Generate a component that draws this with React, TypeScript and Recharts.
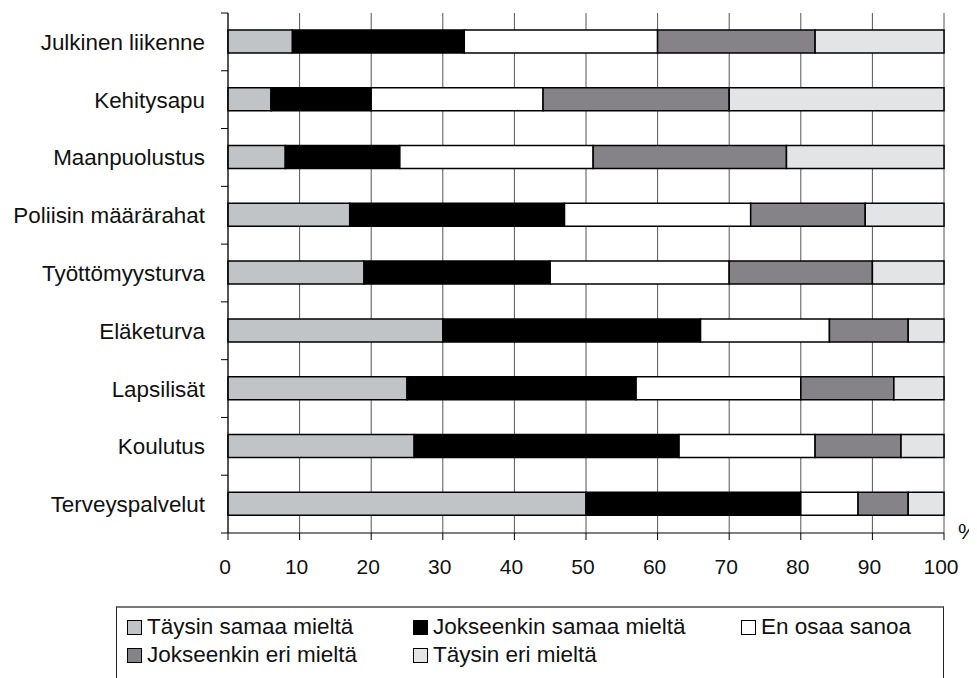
import React from 'react';
import { BarChart, Bar, XAxis, YAxis, CartesianGrid, Legend } from 'recharts';

const categories = [
  'Julkinen liikenne',
  'Kehitysapu',
  'Maanpuolustus',
  'Poliisin määrärahat',
  'Työttömyysturva',
  'Eläketurva',
  'Lapsilisät',
  'Koulutus',
  'Terveyspalvelut',
];
const taysinSamaa = [9, 6, 8, 17, 19, 30, 25, 26, 50];
const jokseenkinSamaa = [24, 14, 16, 30, 26, 36, 32, 37, 30];
const enOsaa = [27, 24, 27, 26, 25, 18, 23, 19, 8];
const jokseenkinEri = [22, 26, 27, 16, 20, 11, 13, 12, 7];
const taysinEri = [18, 30, 22, 11, 10, 5, 7, 6, 5];

const xTicks = [0, 10, 20, 30, 40, 50, 60, 70, 80, 90, 100];
const seriesKeys = ['s1', 's2', 's3', 's4', 's5'];
const seriesNames = [
  'Täysin samaa mieltä',
  'Jokseenkin samaa mieltä',
  'En osaa sanoa',
  'Jokseenkin eri mieltä',
  'Täysin eri mieltä',
];
const seriesColors = ['#c1c4c7', '#000000', '#ffffff', '#858388', '#e3e4e6'];
const unitLabel = '%';

const data = categories.map((name, i) => ({
  name,
  s1: taysinSamaa[i],
  s2: jokseenkinSamaa[i],
  s3: enOsaa[i],
  s4: jokseenkinEri[i],
  s5: taysinEri[i],
}));

const FONT = '"Liberation Sans", Arial, sans-serif';

const YTick = (props: any) => {
  const { x, y, payload, index } = props;
  const off = payload && payload.offset != null ? payload.offset : 0;
  const ax = x + 23;
  return (
    <g>
      <line x1={ax - 7} x2={ax} y1={y - off} y2={y - off} stroke="#000" strokeWidth={1} />
      {index === categories.length - 1 && (
        <line x1={ax - 7} x2={ax} y1={y + off} y2={y + off} stroke="#000" strokeWidth={1} />
      )}
      <text x={x} y={y} dy="0.355em" textAnchor="end" fontSize={22.4} fill="#111" fontFamily={FONT}>
        {payload.value}
      </text>
    </g>
  );
};

const PercentLabel = (props: any) => {
  const vb = props.viewBox || {};
  return (
    <text x={vb.x + vb.width + 14} y={vb.y + 6} fontSize={22} fill="#111" fontFamily={FONT}>
      {unitLabel}
    </text>
  );
};

const LegendContent = (props: any) => {
  const payload = [...(props.payload || [])].sort(
    (a: any, b: any) => seriesNames.indexOf(a.value) - seriesNames.indexOf(b.value)
  );
  return (
    <div style={{ position: 'relative', height: 71 }}>
      <div
        style={{
          position: 'absolute',
          left: 0,
          top: 0,
          right: 0,
          boxSizing: 'border-box',
          height: 90,
          borderLeft: '1px solid #222',
          borderRight: '1px solid #222',
          borderBottom: '1px solid #222',
          borderTop: '2px solid #7a7a7a',
          display: 'grid',
          gridTemplateColumns: '286px 328px 1fr',
          gridAutoRows: '28px',
          paddingLeft: 10,
          paddingTop: 5,
          fontFamily: FONT,
          fontSize: 22.5,
          color: '#111',
        }}
      >
        {payload.map((p: any, i: number) => (
          <div key={i} style={{ display: 'flex', alignItems: 'center', whiteSpace: 'nowrap' }}>
            <span
              style={{
                display: 'inline-block',
                boxSizing: 'border-box',
                width: 15,
                height: 15,
                border: '1px solid #000',
                background: p.color,
                marginRight: 5,
              }}
            />
            <span>{p.value}</span>
          </div>
        ))}
      </div>
    </div>
  );
};

export default function App() {
  return (
    <BarChart
      width={969}
      height={670}
      data={data}
      layout="vertical"
      margin={{ top: 5, right: 33, left: 0, bottom: 1 }}
      barCategoryGap={0}
      style={{ overflow: 'visible' }}
    >
      <CartesianGrid horizontal={false} stroke="#555" strokeWidth={1} />
      <XAxis
        type="number"
        domain={[0, 100]}
        ticks={xTicks}
        interval={0}
        height={73}
        tickSize={7}
        tickMargin={19}
        axisLine={{ stroke: '#000' }}
        tickLine={{ stroke: '#000' }}
        tick={{ fontSize: 21, fill: '#111', fontFamily: FONT, dx: -3 }}
        label={<PercentLabel />}
      />
      <YAxis
        type="category"
        dataKey="name"
        width={220}
        interval={0}
        tickSize={7}
        tickMargin={16}
        tickLine={false}
        axisLine={{ stroke: '#000' }}
        tick={<YTick />}
      />
      <Legend
        verticalAlign="bottom"
        itemSorter={null as any}
        content={<LegendContent />}
        wrapperStyle={{ left: 108, width: 828 }}
      />
      {seriesKeys.map((k, i) => (
        <Bar
          key={k}
          dataKey={k}
          name={seriesNames[i]}
          stackId="a"
          fill={seriesColors[i]}
          stroke="#000"
          strokeWidth={1.5}
          barSize={23}
          isAnimationActive={false}
        />
      ))}
    </BarChart>
  );
}
